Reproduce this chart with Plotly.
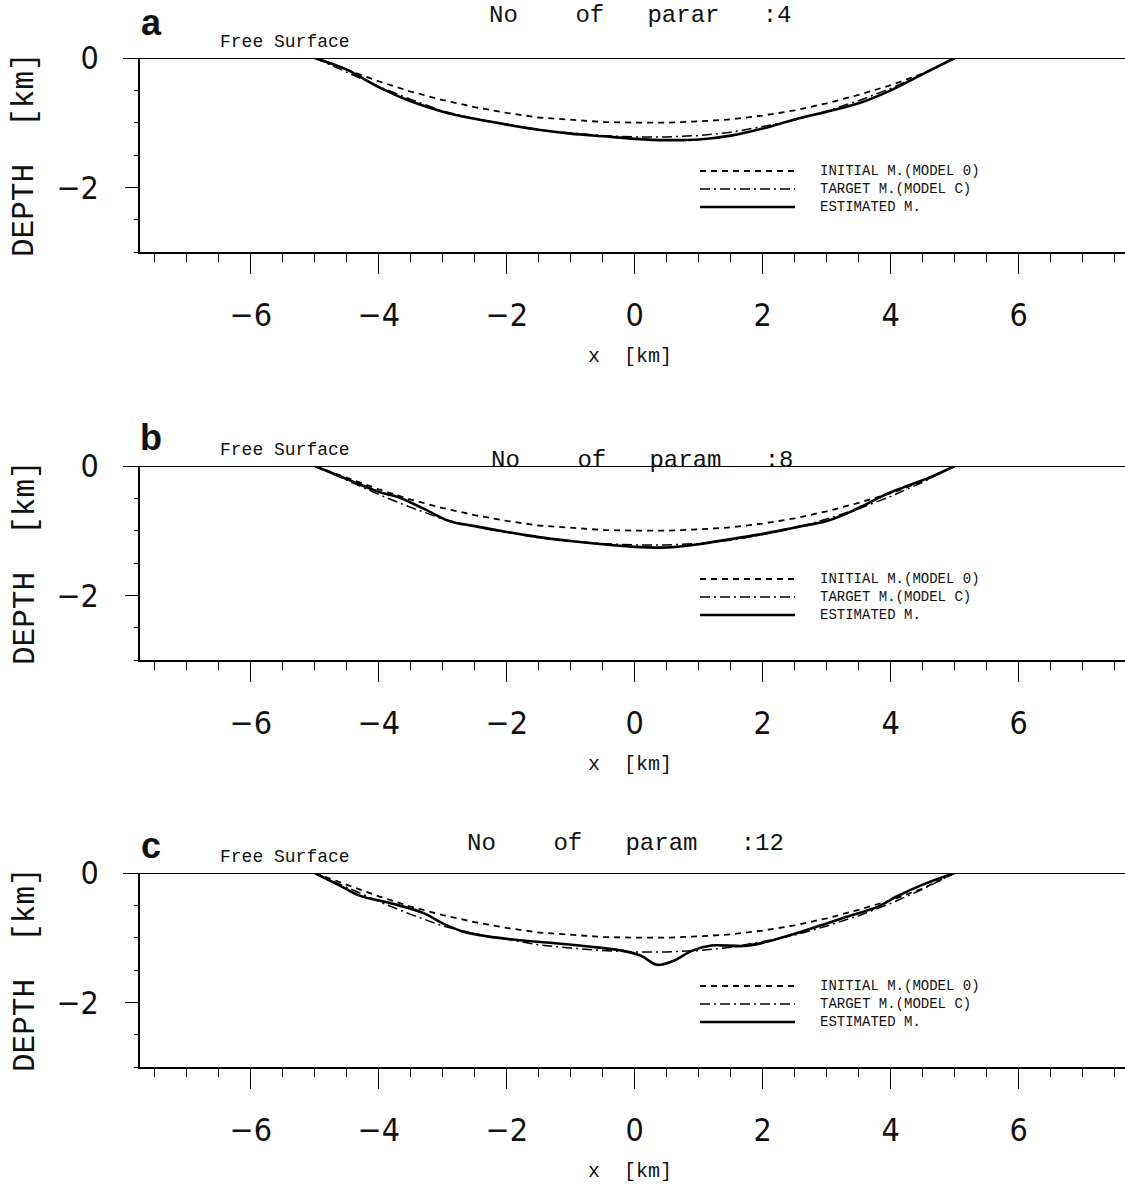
import plotly.graph_objects as go

W, H = 1125, 1187

# ---------------- data (depth in km, positive downward; plotted as negative) ----------------
x_grid = [-5, -4.5, -4, -3.5, -3, -2.5, -2, -1.5, -1, -0.5, 0, 0.5, 1, 1.5, 2, 2.5, 3, 3.5, 4, 4.5, 5]

initial_depth = [0, 0.18, 0.36, 0.52, 0.65, 0.76, 0.85, 0.92, 0.96, 0.99, 1.0, 1.0, 0.98, 0.95, 0.89,
                 0.81, 0.70, 0.57, 0.42, 0.24, 0]
target_depth = [0, 0.22, 0.44, 0.64, 0.82, 0.94, 1.03, 1.11, 1.16, 1.20, 1.22, 1.22, 1.20, 1.15, 1.06,
                0.96, 0.82, 0.66, 0.47, 0.25, 0]

est_a_x = x_grid
est_a_depth = [0, 0.18, 0.45, 0.67, 0.83, 0.94, 1.03, 1.11, 1.17, 1.21, 1.25, 1.27, 1.26, 1.20, 1.09,
               0.95, 0.83, 0.70, 0.50, 0.25, 0]

est_b_x = [-5, -4.5, -4.0, -3.7, -3.3, -2.9, -2.5, -2, -1.5, -1, -0.5, 0, 0.5, 1, 1.5, 2, 2.5, 3.0,
           3.3, 3.6, 3.9, 4.2, 4.6, 5]
est_b_depth = [0, 0.20, 0.40, 0.48, 0.66, 0.85, 0.93, 1.02, 1.10, 1.16, 1.21, 1.25, 1.26, 1.21, 1.13,
               1.05, 0.95, 0.85, 0.74, 0.60, 0.45, 0.33, 0.18, 0]

est_c_x = [-5, -4.6, -4.3, -3.8, -3.3, -3.0, -2.7, -2.3, -1.8, -1.2, -0.6, -0.2, 0.1, 0.35, 0.6, 0.9,
           1.2, 1.7, 2.0, 2.5, 3.0, 3.3, 3.8, 4.1, 4.5, 5]
est_c_depth = [0, 0.20, 0.35, 0.47, 0.62, 0.78, 0.90, 0.98, 1.04, 1.09, 1.15, 1.20, 1.28, 1.42, 1.36,
               1.20, 1.12, 1.13, 1.08, 0.94, 0.78, 0.68, 0.52, 0.36, 0.18, 0]

panel_letters = ["a", "b", "c"]
panel_titles = ["No    of   parar   :4", "No    of   param   :8", "No    of   param   :12"]
legend_labels = ["INITIAL M.(MODEL 0)", "TARGET M.(MODEL C)", "ESTIMATED M."]
x_ticks = [-6, -4, -2, 0, 2, 4, 6]
y_ticks = [0, -2]
y_tick_text = ["0", "\u22122"]
x_tick_text = ["\u22126", "\u22124", "\u22122", "0", "2", "4", "6"]

estimates = [(est_a_x, est_a_depth), (est_b_x, est_b_depth), (est_c_x, est_c_depth)]

# ---------------- layout geometry (pixels) ----------------
panel_tops = [58, 466, 873]
panel_h = 194
plot_left = 140
x_range = [-7.73, 7.66]

letter_y = [None, 437, 845]
title_y = [None, 460, 843]
title_x = [640, 642, 625]

def xp(px):
    return px / W

def yp(py):
    return 1 - py / H

FONT = "Liberation Sans Narrow, DejaVu Sans Condensed, Liberation Sans, sans-serif"
MONO = "Liberation Mono, DejaVu Sans Mono, monospace"

fig = go.Figure()
layout = dict(
    width=W, height=H, margin=dict(l=0, r=0, t=0, b=0, autoexpand=False),
    paper_bgcolor="white", plot_bgcolor="white", showlegend=False,
)
annotations = []
shapes = []

def note(text, px, py, size, family=MONO, xanchor="center", yanchor="middle", angle=0, align="center"):
    annotations.append(dict(text=text, xref="paper", yref="paper", x=xp(px),
                            y=1 if py is None else yp(py),
                            xanchor=xanchor, yanchor=("top" if py is None else yanchor),
                            showarrow=False, textangle=angle, align=align,
                            font=dict(family=family, size=size, color="#111")))

for i in range(3):
    n = "" if i == 0 else str(i + 1)
    xa, ya = "x" + n, "y" + n
    T = panel_tops[i]
    neg = lambda arr: [-v for v in arr]

    fig.add_trace(go.Scatter(x=x_grid, y=neg(initial_depth), mode="lines", xaxis=xa, yaxis=ya,
                             line=dict(color="black", width=1.8, dash="6px,5px")))
    fig.add_trace(go.Scatter(x=x_grid, y=neg(target_depth), mode="lines", xaxis=xa, yaxis=ya,
                             line=dict(color="black", width=1.5, dash="10px,4px,2px,4px")))
    ex, ed = estimates[i]
    fig.add_trace(go.Scatter(x=ex, y=neg(ed), mode="lines", xaxis=xa, yaxis=ya,
                             line=dict(color="black", width=2.6), line_shape="spline"))

    layout["xaxis" + n] = dict(
        domain=[xp(plot_left), 1], range=x_range, anchor=ya, automargin=False,
        showline=True, linecolor="black", linewidth=2, mirror=False,
        showgrid=False, zeroline=False,
        tickmode="array", tickvals=x_ticks, ticktext=x_tick_text,
        ticks="outside", ticklen=20, tickwidth=1, tickcolor="black",
        ticklabelstandoff=14,
        minor=dict(dtick=0.5, tick0=0, ticks="outside", ticklen=8, tickwidth=1, tickcolor="black"),
        tickfont=dict(family=FONT, size=32, color="#111"),
    )
    layout["yaxis" + n] = dict(
        domain=[yp(T + panel_h), yp(T)], range=[-3, 0], anchor=xa, automargin=False,
        showline=True, linecolor="black", linewidth=1.5,
        showgrid=False, zeroline=False,
        tickmode="array", tickvals=y_ticks, ticktext=y_tick_text,
        ticks="outside", ticklen=13, tickwidth=1, tickcolor="black",
        ticklabelstandoff=20,
        minor=dict(dtick=0.5, tick0=0, ticks="outside", ticklen=4, tickwidth=1, tickcolor="black"),
        tickfont=dict(family=FONT, size=32, color="#111"),
    )

    # free surface line (depth 0)
    shapes.append(dict(type="line", xref="paper", yref=ya, x0=xp(123), x1=1, y0=0, y1=0,
                       line=dict(color="black", width=2)))

    note("<b>" + panel_letters[i] + "</b>", 151, letter_y[i], 36, family="Liberation Sans, Arial")
    note(panel_titles[i], title_x[i], title_y[i], 24)
    note("Free Surface", 285, T - 16, 18)
    note("x  [km]", 630, T + 298, 20)
    note("DEPTH  [km]", 25, T + 97, 31, angle=-90)

    # legend: line samples + one multi-line text block
    dashes = ["6px,5px", "10px,4px,2px,4px", "solid"]
    widths = [1.8, 1.5, 2.6]
    row_gap = 18
    for k in range(3):
        ry = T + 113 + row_gap * k
        shapes.append(dict(type="line", xref="paper", yref="paper",
                           x0=xp(700), x1=xp(795), y0=yp(ry), y1=yp(ry),
                           line=dict(color="black", width=widths[k], dash=dashes[k])))
    note("<br>".join(legend_labels), 818, T + 113 + row_gap, 14, xanchor="left", align="left")

layout["annotations"] = annotations
layout["shapes"] = shapes
fig.update_layout(**layout)
fig.write_html("out.html")
